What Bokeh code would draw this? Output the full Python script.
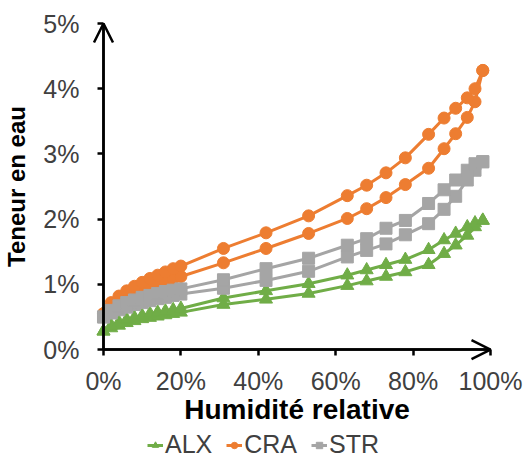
from bokeh.plotting import figure
from bokeh.models import Range1d, Arrow, OpenHead, Legend, LegendItem, FixedTicker
from bokeh.embed import file_html
from bokeh.resources import INLINE

rh = [0, 2, 4, 6, 8, 10, 12, 14, 16, 18, 20, 31, 42, 53, 63, 68, 73, 78, 84, 88, 91, 94, 96, 98]

alx_ads = [0.28, 0.33, 0.37, 0.41, 0.44, 0.47, 0.49, 0.51, 0.53, 0.55, 0.57, 0.69, 0.77, 0.86, 0.98, 1.05, 1.12, 1.19, 1.30, 1.47, 1.60, 1.75, 1.88, 1.98]
alx_des = [0.28, 0.37, 0.42, 0.46, 0.49, 0.52, 0.55, 0.57, 0.59, 0.61, 0.63, 0.79, 0.90, 1.01, 1.14, 1.22, 1.30, 1.38, 1.53, 1.68, 1.78, 1.88, 1.94, 1.98]
cra_ads = [0.55, 0.66, 0.74, 0.80, 0.86, 0.91, 0.96, 1.00, 1.04, 1.08, 1.12, 1.33, 1.55, 1.78, 2.01, 2.16, 2.33, 2.53, 2.78, 3.08, 3.31, 3.56, 3.80, 4.28]
cra_des = [0.55, 0.72, 0.82, 0.90, 0.97, 1.03, 1.09, 1.14, 1.19, 1.24, 1.28, 1.55, 1.79, 2.05, 2.36, 2.52, 2.71, 2.94, 3.30, 3.55, 3.70, 3.86, 4.00, 4.28]
str_ads = [0.50, 0.56, 0.61, 0.65, 0.69, 0.72, 0.75, 0.78, 0.80, 0.83, 0.85, 0.94, 1.06, 1.20, 1.42, 1.52, 1.62, 1.76, 1.93, 2.15, 2.35, 2.60, 2.75, 2.88]
str_des = [0.50, 0.60, 0.67, 0.72, 0.76, 0.80, 0.83, 0.86, 0.89, 0.91, 0.93, 1.07, 1.24, 1.40, 1.60, 1.70, 1.86, 1.98, 2.24, 2.45, 2.60, 2.75, 2.85, 2.88]

names = ["ALX", "CRA", "STR"]
ads_vals = [alx_ads, cra_ads, str_ads]
des_vals = [alx_des, cra_des, str_des]
colors = ["#70AD47", "#ED7D31", "#A5A5A5"]
markers = ["triangle", "circle", "square"]
msizes = [13, 12, 12]

x_ticks = [0, 20, 40, 60, 80, 100]
y_ticks = [0, 1, 2, 3, 4, 5]

FONT = "Liberation Sans"

p = figure(width=526, height=466, output_backend="svg", toolbar_location=None,
           x_range=Range1d(-26.61, 109.30), y_range=Range1d(-1.794, 5.353),
           min_border_left=0, min_border_right=0, min_border_top=0, min_border_bottom=0)
p.outline_line_color = None
p.grid.visible = False

for ax in (p.xaxis[0], p.yaxis[0]):
    ax.fixed_location = 0
    ax.axis_line_width = 2.5
    ax.axis_line_color = "black"
    ax.major_tick_line_width = 2.5
    ax.major_tick_line_color = "black"
    ax.major_tick_out = 6
    ax.major_tick_in = 0
    ax.minor_tick_line_color = None
    ax.major_label_text_font = FONT
    ax.major_label_text_font_size = "25px"
    ax.major_label_text_color = "#404040"
    ax.axis_label_text_font = FONT
    ax.axis_label_text_font_style = "bold"
    ax.axis_label_text_color = "black"

p.xaxis.bounds = (0, 100)
p.yaxis.bounds = (0, 5)
p.xaxis.ticker = FixedTicker(ticks=x_ticks)
p.yaxis.ticker = FixedTicker(ticks=y_ticks)
p.xaxis.major_label_overrides = {t: f"{t}%" for t in x_ticks}
p.yaxis.major_label_overrides = {t: f"{t}%" for t in y_ticks}
p.xaxis.axis_label = "Humidité relative"
p.yaxis.axis_label = "Teneur en eau"
p.xaxis.axis_label_text_font_size = "28px"
p.yaxis.axis_label_text_font_size = "24px"
p.xaxis.major_label_standoff = 11
p.xaxis.axis_label_standoff = -4
p.yaxis.major_label_standoff = 18
p.yaxis.axis_label_standoff = 10

items = []
for name, ads, des, col, mk, ms in zip(names, ads_vals, des_vals, colors, markers, msizes):
    rs = []
    for yv in (ads, des):
        l = p.line(rh, yv, line_color=col, line_width=3)
        s = p.scatter(rh, yv, marker=mk, size=ms, fill_color=col, line_color=col)
        rs += [l, s]
    items.append(LegendItem(label=name, renderers=rs[:2]))

p.add_layout(Arrow(end=OpenHead(size=19, line_width=2.5, line_color="black"),
                   x_start=0, y_start=0, x_end=0, y_end=5, line_width=2.5, line_color="black"))
p.add_layout(Arrow(end=OpenHead(size=19, line_width=2.5, line_color="black"),
                   x_start=0, y_start=0, x_end=100, y_end=0, line_width=2.5, line_color="black"))

legend = Legend(items=items, orientation="horizontal", location=(147, 7),
                label_text_font=FONT, label_text_font_size="25px", label_text_color="#404040",
                glyph_width=16, glyph_height=16, label_standoff=2, spacing=14,
                border_line_color=None, background_fill_alpha=0, padding=0, margin=0)
p.add_layout(legend, "center")

open("out.html", "w").write(file_html(p, INLINE))
